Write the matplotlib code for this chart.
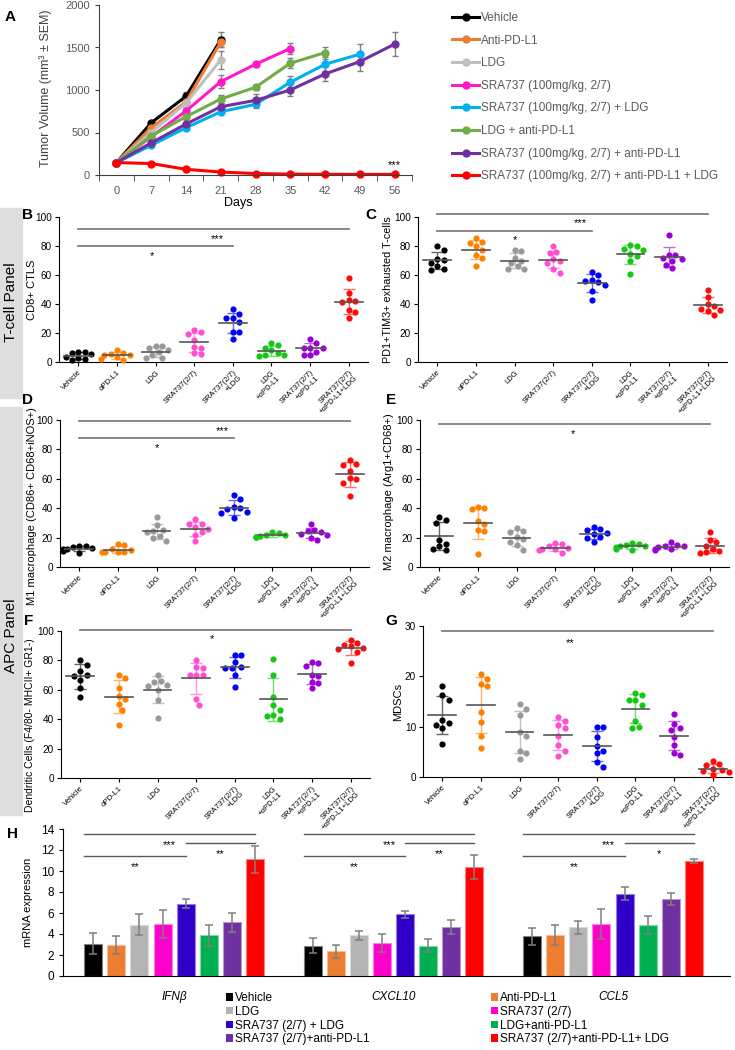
import numpy as np
import matplotlib
matplotlib.use('Agg')
import matplotlib.pyplot as plt
from matplotlib.patches import Rectangle, Patch
from matplotlib.lines import Line2D

plt.rcParams['font.family'] = ['Liberation Sans', 'DejaVu Sans']

# ---------------- data ----------------
# Panel A: tumour volume (mm3) by day
days = [0, 7, 14, 21, 28, 35, 42, 49, 56]
series_names = ['Vehicle', 'Anti-PD-L1', 'LDG', 'SRA737 (100mg/kg, 2/7)',
                'SRA737 (100mg/kg, 2/7) + LDG', 'LDG + anti-PD-L1',
                'SRA737 (100mg/kg, 2/7) + anti-PD-L1',
                'SRA737 (100mg/kg, 2/7) + anti-PD-L1 + LDG']
vehicle_vol = [145, 614, 925, 1590]
anti_pdl1_vol = [145, 555, 860, 1563]
ldg_vol = [145, 500, 846, 1354]
sra_vol = [145, 450, 752, 1098, 1303, 1488]
sra_ldg_vol = [145, 350, 555, 744, 831, 1091, 1303, 1421]
ldg_pdl1_vol = [145, 460, 685, 894, 1032, 1315, 1440]
sra_pdl1_vol = [145, 378, 599, 803, 878, 1000, 1189, 1334, 1540]
triple_vol = [146, 135, 67, 35, 17, 10, 8, 7, 7]
vehicle_err = [0, 20, 55, 90]
anti_pdl1_err = [0, 20, 40, 60]
ldg_err = [0, 20, 60, 110]
sra_err = [0, 20, 40, 80, 30, 70]
sra_ldg_err = [0, 20, 30, 30, 40, 70, 80, 120]
ldg_pdl1_err = [0, 20, 30, 50, 30, 60, 70]
sra_pdl1_err = [0, 20, 30, 40, 70, 70, 80, 110, 140]
triple_err = [0, 10, 10, 8, 5, 5, 5, 5, 5]

# Panels B-G: individual mice per group
group_labels = ['Vehicle', 'αPD-L1', 'LDG', 'SRA737(2/7)', 'SRA737(2/7)\n+LDG',
                'LDG\n+αPD-L1', 'SRA737(2/7)\n+αPD-L1', 'SRA737(2/7)\n+αPD-L1+LDG']
cd8 = [[7.2, 6.8, 6.5, 5.5, 3.5, 2.5, 2, 1.5],
       [8, 6, 5.5, 4.5, 3.5, 2, 1.5, 5],
       [11, 11, 9.5, 8, 5, 2.5, 3, 7],
       [22.3, 20.5, 19.5, 15, 10.5, 10, 6, 5.5],
       [36.3, 32.9, 30.1, 30.1, 27.8, 20.9, 20.9, 16.1],
       [13, 11.5, 10, 8, 6.5, 5, 4.5, 4],
       [16, 13, 10, 10, 9.5, 7, 5, 4.5],
       [58.2, 47.6, 42.5, 42, 41.6, 35.9, 34.7, 30.3]]
exhausted = [[80, 77.5, 71, 70.5, 68.5, 66.5, 64, 63.5],
             [85.5, 83, 82, 80, 77, 74, 71.5, 66],
             [77, 76.5, 72, 70, 68, 66, 64, 64],
             [80, 76, 75, 71, 69.5, 68.5, 64, 61.5],
             [62, 60, 56.5, 55.5, 53, 49, 43, 56],
             [81, 80, 78, 77, 74.5, 73, 70, 61],
             [87.5, 74, 74, 72, 71, 70, 67, 65],
             [49.5, 44.5, 40, 38.5, 36.5, 36, 35.5, 32.5]]
m1 = [[14.5, 14, 13.5, 13, 12.5, 12, 11, 9.5],
      [15.5, 15, 12.5, 11.5, 10.5, 10, 10, 10],
      [34, 28.5, 25, 24.5, 24, 21, 20, 17.5],
      [32.5, 29.5, 29, 27, 26, 24, 22, 17.5],
      [49, 46.5, 41, 40, 39.5, 37.5, 37, 33],
      [24, 23, 22, 21.5, 21, 20.5, 20.5, 20.5],
      [29.5, 25.5, 24.5, 24, 22.5, 21.5, 19.5, 18.5],
      [73, 70, 69.5, 65.5, 60.5, 60, 57, 48]]
m2 = [[33.7, 32.1, 29.9, 18.6, 15.8, 14, 12.2, 11.3],
      [40.5, 40, 39.5, 31, 29.5, 25, 24.5, 9],
      [26.5, 24.5, 24, 20.5, 19, 17, 15, 11.5],
      [16.5, 15.5, 14.5, 13, 12.5, 12, 11.5, 9.5],
      [27, 26, 25, 23, 22.5, 20.5, 19.5, 17],
      [16.5, 15.5, 15, 14.5, 14, 13.5, 12.5, 11.5],
      [17, 15, 14.5, 14, 13.5, 12.5, 12, 11.5],
      [24, 18.5, 17, 14.5, 12, 11, 10, 9.5]]
dendritic = [[80.5, 77, 72.5, 70, 69.5, 67, 61, 55],
             [70, 68, 61, 56, 54, 50.5, 46.5, 36],
             [70, 66, 65.5, 63, 62.5, 60, 53, 41],
             [80, 75.5, 74.5, 70, 70, 70, 54, 50],
             [84, 83.5, 79, 75.5, 75, 74.5, 70, 62],
             [81, 70, 55, 50, 46.5, 43, 42.5, 40],
             [79, 78, 76.5, 70, 69.5, 65.5, 64.5, 61],
             [94, 91.5, 90.5, 89.5, 88.5, 88, 86, 78]]
mdsc = [[18, 16.3, 15.2, 11.4, 10.7, 10.4, 9.8, 6.6],
        [20.4, 19.4, 18.4, 18, 13, 11, 8.2, 5.8],
        [14.5, 13.5, 12.4, 8.1, 5.2, 4.8, 3.6, 9],
        [12, 11.1, 10.3, 9.8, 8.1, 6.3, 5.2, 4.1],
        [9.9, 9.9, 7.9, 6.2, 5.2, 4.8, 3, 2],
        [16.7, 16.2, 15.3, 15.3, 14.3, 11.2, 10, 9.7],
        [12.6, 10.6, 9.8, 9.4, 8, 6.3, 4.7, 4.3],
        [3.1, 2.5, 2.4, 1.6, 1.3, 1.2, 0.9, 0.3]]

# Panel H: mRNA expression
genes = ['IFNβ', 'CXCL10', 'CCL5']
h_names = ['Vehicle', 'Anti-PD-L1', 'LDG', 'SRA737 (2/7)', 'SRA737 (2/7) + LDG',
           'LDG+anti-PD-L1', 'SRA737 (2/7)+anti-PD-L1', 'SRA737 (2/7)+anti-PD-L1+ LDG']
ifnb = [3.05, 2.95, 4.9, 4.95, 6.9, 3.9, 5.1, 11.1]
ifnb_err = [1.0, 0.9, 1.0, 1.3, 0.42, 1.0, 0.9, 1.3]
cxcl10 = [2.9, 2.35, 3.87, 3.17, 5.87, 2.89, 4.64, 10.38]
cxcl10_err = [0.7, 0.65, 0.4, 0.86, 0.35, 0.6, 0.67, 1.1]
ccl5 = [3.78, 3.9, 4.64, 4.92, 7.84, 4.86, 7.33, 10.98]
ccl5_err = [0.8, 0.93, 0.63, 1.43, 0.64, 0.85, 0.6, 0.19]

# ---------------- styling ----------------
W, H = 735, 1050
a_colors = ['#000000', '#ED7D31', '#BFBFBF', '#FF19C8', '#00B0F0', '#70AD47', '#7030A0', '#FF0000']
dot_colors = ['#000000', '#FF8000', '#999999', '#FF4FD0', '#0000F5', '#14C814', '#9C00D8', '#FF0A0A']
h_colors = ['#000000', '#ED7D31', '#B4B4B4', '#FF00CC', '#3000C8', '#00B050', '#7030A0', '#FF0000']
grey_txt = '#595959'

fig = plt.figure(figsize=(7.35, 10.5), dpi=100)


def add_ax(left, top, right, bottom):
    return fig.add_axes([left / W, 1 - bottom / H, (right - left) / W, (bottom - top) / H])


def ftext(x, y, s, **kw):
    kw.setdefault('ha', 'center')
    kw.setdefault('va', 'center')
    return fig.text(x / W, 1 - y / H, s, **kw)


def light(c, a=0.4):
    rgb = np.array(matplotlib.colors.to_rgb(c))
    return tuple(rgb * (1 - a) + a)


# side grey bands
for y0, y1, lab, yc in [(208, 398, 'T-cell Panel', 302), (407, 815, 'APC Panel', 636)]:
    fig.patches.append(Rectangle((0, 1 - y1 / H), 22 / W, (y1 - y0) / H,
                                 transform=fig.transFigure, color='#DEDEDE', zorder=0))
    ftext(11, yc, lab, rotation=90, fontsize=11)

# ---------------- panel A ----------------
axA = add_ax(99, 5, 412, 175)
vols = [vehicle_vol, anti_pdl1_vol, ldg_vol, sra_vol, sra_ldg_vol, ldg_pdl1_vol, sra_pdl1_vol, triple_vol]
errs = [vehicle_err, anti_pdl1_err, ldg_err, sra_err, sra_ldg_err, ldg_pdl1_err, sra_pdl1_err, triple_err]
handles = []
for name, v, e, c in zip(series_names, vols, errs, a_colors):
    x = days[:len(v)]
    axA.errorbar(x, v, yerr=e, color=c, marker='o', ms=5, lw=2.2, ecolor='#808080',
                 elinewidth=1, capsize=2.5, capthick=1, clip_on=False)
    handles.append(Line2D([], [], color=c, marker='o', ms=5, lw=2.2, label=name))
axA.set_xlim(-3.5, 59.5)
axA.set_ylim(0, 2000)
axA.set_xticks(days)
axA.set_xticks(np.arange(-3.5, 60, 7), minor=True)
axA.set_yticks([0, 500, 1000, 1500, 2000])
axA.tick_params(axis='x', which='major', length=0, pad=8, labelsize=8, labelcolor=grey_txt)
axA.tick_params(axis='x', which='minor', length=4, direction='out', color='#404040')
axA.tick_params(axis='y', length=3, labelsize=8, labelcolor=grey_txt, color='#404040')
for s in ['top', 'right']:
    axA.spines[s].set_visible(False)
for s in ['left', 'bottom']:
    axA.spines[s].set_color('#404040')
axA.text(56, 60, '***', ha='center', va='bottom', fontsize=8)
ftext(46, 88, 'Tumor Volume (mm³ ± SEM)', rotation=90, fontsize=9, color='#404040')
ftext(238, 203, 'Days', fontsize=9)
fig.legend(handles=handles, loc='upper left', bbox_to_anchor=(452 / W, 1 - 12 / H),
           frameon=False, fontsize=8.5, labelcolor=grey_txt, handlelength=2.3,
           handletextpad=0.15, labelspacing=0.9, borderpad=0, borderaxespad=0)
ftext(10, 17, 'A', fontsize=11, fontweight='bold')


# ---------------- panels B-G ----------------
def swarm(vals, ypx, xpx=38.6, d=6.4):
    vals = np.asarray(vals, float)
    offs = np.zeros(len(vals))
    placed = []
    for i in np.argsort(-vals):
        y = vals[i] * ypx
        for k in [0, 1, -1, 2, -2, 3, -3, 4, -4, 5, -5]:
            x = k * d * 0.5
            if all((x - px) ** 2 + (y - py) ** 2 >= d ** 2 for px, py in placed):
                break
        placed.append((x, y))
        offs[i] = x / xpx
    return offs


def dot_panel(box, data, ymax, ystep, ylabel, ylab_xy, ylab_size, letter, letter_xy, sig):
    left, top, right, bottom = box
    ax = add_ax(left, top, right, bottom)
    ypx = (bottom - top) / ymax
    for i, (vals, col) in enumerate(zip(data, dot_colors)):
        vals = np.asarray(vals, float)
        offs = swarm(vals, ypx)
        m, sd = vals.mean(), vals.std(ddof=1)
        ax.errorbar(i, m, yerr=sd, fmt='none', ecolor=light(col), elinewidth=1,
                    capsize=4, capthick=1, zorder=2)
        ax.scatter(i + offs, vals, s=20, color=col, lw=0, zorder=3, clip_on=False)
        ax.plot([i - 0.36, i + 0.36], [m, m], color='#555555', lw=1.2, zorder=4)
    for x0, x1, yl, txt, tx, ty in sig:
        ax.plot([x0, x1], [yl, yl], color='#808080', lw=1.3, clip_on=False)
        ax.annotate(txt, (tx, ty), xytext=(0, -2), textcoords='offset points',
                    ha='center', va='center', fontsize=8)
    ax.set_xlim(-0.5, 7.5)
    ax.set_ylim(0, ymax)
    ax.set_yticks(np.arange(0, ymax + 0.1, ystep))
    ax.set_xticks(range(8))
    ax.set_xticklabels(group_labels, rotation=45, ha='right', rotation_mode='anchor',
                       fontsize=5.5)
    ax.tick_params(axis='x', length=3, pad=2)
    ax.tick_params(axis='y', length=3, labelsize=7.2, pad=2)
    for s in ['top', 'right']:
        ax.spines[s].set_visible(False)
    ftext(ylab_xy[0], ylab_xy[1], ylabel, rotation=90, fontsize=ylab_size)
    ftext(letter_xy[0], letter_xy[1], letter, fontsize=11, fontweight='bold')
    return ax


dot_panel((59, 217, 368, 362), cd8, 100, 20, 'CD8+ CTLS', (32, 290), 8, 'B', (27, 215),
          [(0, 7, 92, '***', 3.6, 87), (0, 4, 80, '*', 1.9, 75)])
dot_panel((418, 217, 727, 362), exhausted, 100, 20, 'PD1+TIM3+ exhausted T-cells',
          (388, 290), 7.8, 'C', (371, 215),
          [(0, 7, 102, '***', 3.7, 98), (0, 4, 90.5, '*', 2.0, 86)])
dot_panel((60, 420, 369, 567), m1, 100, 20, 'M1 macrophage (CD86+ CD68+iNOS+)',
          (32, 506), 8, 'D', (27, 400),
          [(0, 7, 99, '***', 3.7, 94.5), (0, 4, 87.6, '*', 2.0, 82.5)])
dot_panel((420, 420, 729, 567), m2, 100, 20, 'M2 macrophage (Arg1+CD68+)',
          (389, 492), 8, 'E', (391, 400), [(0, 7, 97, '*', 3.45, 92.5)])
dot_panel((61, 631, 370, 778), dendritic, 100, 20, 'Dendritic Cells (F4/80- MHCII+ GR1-)',
          (30, 725), 7.5, 'F', (29, 621), [(0, 7, 101, '*', 3.4, 96.5)])
dot_panel((423, 626, 732, 777), mdsc, 30, 10, 'MDSCs', (398, 702), 8,
          'G', (391, 621), [(0, 7, 29, '**', 3.3, 27.2)])

# ---------------- panel H ----------------
axH = add_ax(63, 829, 730, 976)
pitch, bw = 0.105, 0.082
h_vals = [ifnb, cxcl10, ccl5]
h_errs = [ifnb_err, cxcl10_err, ccl5_err]
for g, (vals, err) in enumerate(zip(h_vals, h_errs)):
    xs = g + (np.arange(8) - 3.5) * pitch
    axH.bar(xs, vals, width=bw, color=h_colors, edgecolor=[light(c, 0.5) for c in h_colors],
            lw=0.8, zorder=2)
    axH.errorbar(xs, vals, yerr=err, fmt='none', ecolor='#7F7F7F', elinewidth=1.1,
                 capsize=3, capthick=1.1, zorder=3)
    star_mid = '*' if g == 2 else '**'
    for (a, b, yl, txt, ty) in [(0, 7, 13.5, '***', 12.75), (4, 7, 12.67, star_mid, 11.9),
                                (0, 4, 11.43, '**', 10.67)]:
        xa = xs[a] - (bw / 2 if a == 0 else 0)
        xb = xs[b]
        axH.plot([xa, xb], [yl, yl], color='#595959', lw=1, clip_on=False)
        axH.annotate(txt, ((xa + xb) / 2, ty), xytext=(0, -2), textcoords='offset points',
                     ha='center', va='center', fontsize=8)
axH.set_xlim(-0.506, 2.533)
axH.set_ylim(0, 14)
axH.set_yticks(range(0, 15, 2))
axH.set_xticks(range(3))
axH.set_xticklabels(genes, fontstyle='italic', fontsize=8.5)
axH.tick_params(axis='x', length=0, pad=11)
axH.tick_params(axis='y', length=3, labelsize=8.5)
for s in ['top', 'right']:
    axH.spines[s].set_visible(False)
ftext(28, 902, 'mRNA expression', rotation=90, fontsize=8)
ftext(12, 834, 'H', fontsize=11, fontweight='bold')

h_handles = [Patch(facecolor=c, edgecolor='none', label=n) for c, n in zip(h_colors, h_names)]
for idx, xl in [([0, 2, 4, 6], 226), ([1, 3, 5, 7], 491)]:
    leg = fig.legend(handles=[h_handles[i] for i in idx], loc='upper left',
                     bbox_to_anchor=(xl / W, 1 - 992 / H), frameon=False, fontsize=8.5,
                     handlelength=0.6, handleheight=0.6, handletextpad=0.2,
                     labelspacing=0.15, borderpad=0, borderaxespad=0)

fig.savefig('out.png', dpi=100)
